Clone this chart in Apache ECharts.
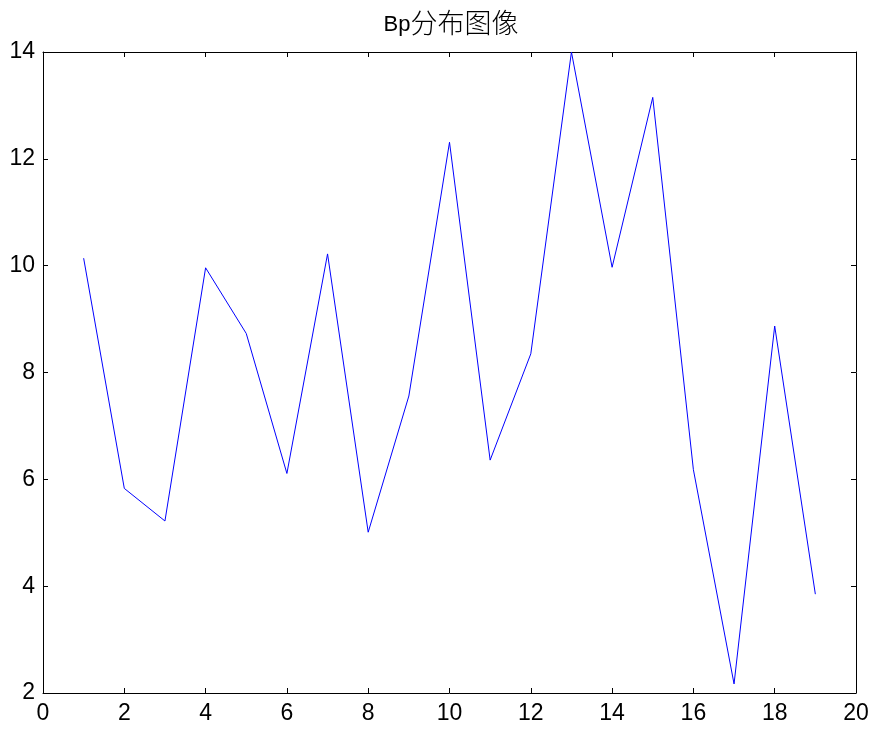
<!DOCTYPE html>
<html>
<head>
<meta charset="utf-8">
<script src="https://cdn.jsdelivr.net/npm/echarts@6/dist/echarts.min.js"></script>
<style>
  html, body { margin: 0; padding: 0; background: #fff; }
  #chart { width: 874px; height: 731px; }
</style>
</head>
<body>
<div id="chart"></div>
<script>
// Sample index and Bp value at each sample
const sampleIndex = [1, 2, 3, 4, 5, 6, 7, 8, 9, 10, 11, 12, 13, 14, 15, 16, 17, 18, 19];
const bpValues = [10.14, 5.83, 5.22, 9.96, 8.73, 6.11, 10.22, 5.01, 7.56, 12.31,
                  6.36, 8.35, 14.0, 9.97, 13.15, 6.18, 2.17, 8.87, 3.85];

const titleText = 'Bp分布图像';
const xMin = 0, xMax = 20, xStep = 2;
const yMin = 2, yMax = 14, yStep = 2;

const labelFont = { fontFamily: 'Liberation Sans, Arial, sans-serif', fontSize: 23, color: '#000' };
const frameLine = { show: true, onZero: false, lineStyle: { color: '#000', width: 1 } };
const innerTick = { show: true, inside: true, length: 5, lineStyle: { color: '#000', width: 1 } };

const chart = echarts.init(document.getElementById('chart'), null, { renderer: 'canvas' });
chart.setOption({
  backgroundColor: '#fff',
  animation: false,
  title: {
    text: '{a|' + titleText.slice(0, 2) + '}{b|' + titleText.slice(2) + '}',
    left: 446,
    textAlign: 'center',
    top: 1,
    textStyle: {
      fontWeight: 'normal',
      rich: {
        a: { fontFamily: 'Liberation Sans, Arial, sans-serif', fontSize: 22, fontWeight: 'normal',
             color: '#000', verticalAlign: 'bottom', lineHeight: 16 },
        b: { fontFamily: 'Noto Sans CJK SC, sans-serif', fontSize: 27, fontWeight: 300,
             color: '#000', verticalAlign: 'bottom', lineHeight: 30 }
      }
    }
  },
  grid: { left: 43, right: 18, top: 52, bottom: 38, containLabel: false },
  xAxis: [
    {
      type: 'value', position: 'bottom', min: xMin, max: xMax, interval: xStep,
      axisLine: frameLine, axisTick: innerTick,
      axisLabel: Object.assign({ margin: 9 }, labelFont),
      splitLine: { show: false }
    },
    {
      type: 'value', position: 'top', min: xMin, max: xMax, interval: xStep,
      axisLine: frameLine, axisTick: innerTick,
      axisLabel: { show: false }, splitLine: { show: false }
    }
  ],
  yAxis: [
    {
      type: 'value', position: 'left', min: yMin, max: yMax, interval: yStep,
      axisLine: frameLine, axisTick: innerTick,
      axisLabel: Object.assign({ margin: 8 }, labelFont),
      splitLine: { show: false }
    },
    {
      type: 'value', position: 'right', min: yMin, max: yMax, interval: yStep,
      axisLine: frameLine, axisTick: innerTick,
      axisLabel: { show: false }, splitLine: { show: false }
    }
  ],
  series: [
    {
      type: 'line',
      data: sampleIndex.map((x, i) => [x, bpValues[i]]),
      showSymbol: false,
      symbol: 'none',
      lineStyle: { color: '#0000ff', width: 1 },
      xAxisIndex: 0,
      yAxisIndex: 0
    }
  ]
});
</script>
</body>
</html>
